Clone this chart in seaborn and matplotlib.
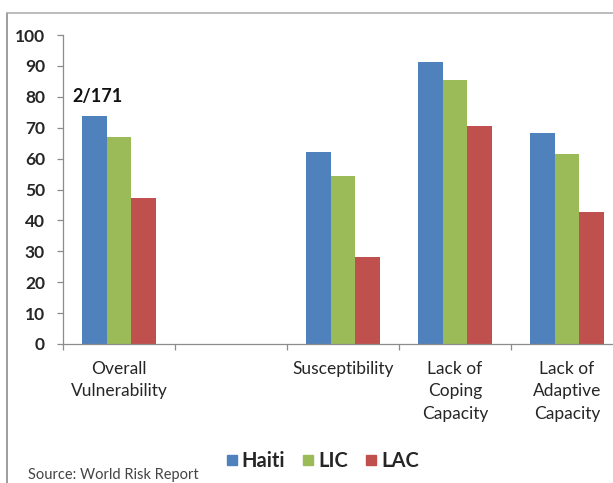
import pandas as pd
import matplotlib.pyplot as plt
import seaborn as sns
from matplotlib.lines import Line2D

# Values (World Risk Report)
categories = ["Overall\nVulnerability", " ", "Susceptibility",
              "Lack of\nCoping\nCapacity", "Lack of\nAdaptive\nCapacity"]
shown = ["Overall\nVulnerability", "Susceptibility",
         "Lack of\nCoping\nCapacity", "Lack of\nAdaptive\nCapacity"]
haiti = [73.8, 62.2, 91.2, 68.2]
lic = [67.1, 54.5, 85.5, 61.4]
lac = [47.1, 28.3, 70.5, 42.6]
groups = ["Haiti", "LIC", "LAC"]
colors = ["#4F81BD", "#9BBB59", "#C0504D"]

data = pd.DataFrame({
    'Category': shown * 3,
    'Group': ["Haiti"] * 4 + ["LIC"] * 4 + ["LAC"] * 4,
    'Value': haiti + lic + lac,
})

sns.set_style('white')
plt.rcParams['font.family'] = ['Lato', 'DejaVu Sans']

fig = plt.figure(figsize=(6.13, 4.83), dpi=100)
ax = fig.add_axes([63 / 613, 1 - 344 / 483, 560 / 613, 309 / 483])

sns.barplot(x='Category', y='Value', hue='Group', data=data, order=categories,
            hue_order=groups, palette=colors, saturation=1, width=0.66, ax=ax,
            edgecolor='none', linewidth=0, legend=False)

ax.set_xlim(-0.5, 4.5)
ax.set_ylim(0, 100)
ax.set_yticks(range(0, 101, 10))
ax.set_xlabel('')
ax.set_ylabel('')

for side in ['top', 'right']:
    ax.spines[side].set_visible(False)
for side in ['left', 'bottom']:
    ax.spines[side].set_color('#8c8c8c')
    ax.spines[side].set_linewidth(0.9)

ax.tick_params(axis='y', left=True, length=4, width=0.9, color='#8c8c8c',
               pad=9, labelsize=12.5)
for lbl in ax.get_yticklabels():
    lbl.set_fontweight('bold')

# category labels centred, tick marks between categories
ax.set_xticks(range(len(categories)))
ax.set_xticklabels(categories, fontsize=12.5, linespacing=1.5, va='top')
ax.tick_params(axis='x', which='major', length=0, pad=12)
ax.set_xticks([i - 0.5 for i in range(len(categories) + 1)], minor=True)
ax.tick_params(axis='x', which='minor', bottom=True, length=4, width=0.9,
               color='#8c8c8c')

# rank annotation above the Haiti bar
ax.text(-0.19, 80, '2/171', ha='center', va='center', fontsize=13,
        fontweight='bold', color='#111111')

handles = [Line2D([0], [0], marker='s', linestyle='', markersize=6.5,
                  markerfacecolor=c, markeredgecolor=c) for c in colors]
fig.legend(handles, groups, loc='center', bbox_to_anchor=(0.526, 0.046),
           ncol=3, frameon=False, handlelength=0.55, handletextpad=0.2,
           columnspacing=0.9, prop={'size': 14.5, 'weight': 'bold'})

fig.text(28 / 613, 1 / 483, 'Source: World Risk Report', ha='left',
         va='bottom', fontsize=10.5, color='#444444')

# chart frame (left and top edges visible in the crop)
fig.add_artist(Line2D([7 / 613, 7 / 613], [0, 1 - 13 / 483],
                      transform=fig.transFigure, color='#8c8c8c', lw=1.2))
fig.add_artist(Line2D([7 / 613, 1], [1 - 13 / 483, 1 - 13 / 483],
                      transform=fig.transFigure, color='#b0b0b0', lw=1.2))

plt.savefig('out.png', dpi=100)
